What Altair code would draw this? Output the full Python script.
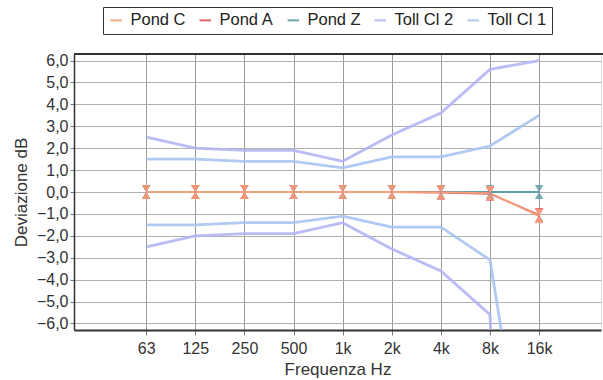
import altair as alt
import pandas as pd

freqs = ["63", "125", "250", "500", "1k", "2k", "4k", "8k", "16k"]
series = ["Pond C", "Pond A", "Pond Z", "Toll Cl 2", "Toll Cl 1"]
colors = ["#f2a27c", "#e8505f", "#5f9ea6", "#b4b4f4", "#a9c4f0"]

pond_c = [0.0, 0.0, 0.0, 0.0, 0.0, 0.0, -0.02, -0.05, -1.1]
pond_a = [0.0, 0.0, 0.0, 0.0, 0.0, 0.0, -0.03, -0.08, -1.05]
pond_z = [0.0, 0.0, 0.0, 0.0, 0.0, 0.0, 0.0, 0.0, 0.0]
toll1_up = [1.5, 1.5, 1.4, 1.4, 1.1, 1.6, 1.6, 2.1, 3.5]
toll1_dn = [-1.5, -1.5, -1.4, -1.4, -1.1, -1.6, -1.6, -3.1, -17.0]
toll2_up = [2.5, 2.0, 1.9, 1.9, 1.4, 2.6, 3.6, 5.6, 6.0]
toll2_dn = [-2.5, -2.0, -1.9, -1.9, -1.4, -2.6, -3.6, -5.6, -60.0]

rows = []
for name, vals, lid in [("Toll Cl 2", toll2_up, "t2u"), ("Toll Cl 2", toll2_dn, "t2d"),
                        ("Toll Cl 1", toll1_up, "t1u"), ("Toll Cl 1", toll1_dn, "t1d"),
                        ("Pond Z", pond_z, "pz"), ("Pond A", pond_a, "pa"),
                        ("Pond C", pond_c, "pc")]:
    for i, v in enumerate(vals):
        rows.append({"series": name, "line": lid, "idx": i, "value": v,
                     "kind": "toll" if name.startswith("Toll") else "pond"})
df = pd.DataFrame(rows)

W, H = 527, 276
label_arr = "[" + ",".join("'%s'" % f for f in freqs) + "]"

xenc = alt.X("idx:Q", scale=alt.Scale(domain=[-1.47, 9.26], nice=False, zero=False),
             axis=alt.Axis(values=list(range(len(freqs))), labelExpr=label_arr + "[datum.value]",
                           title="Frequenza Hz", grid=True, gridColor="#9a9a9a", gridWidth=1,
                           domainColor="#333", domainWidth=2, tickColor="#777", tickSize=5,
                           labelFontSize=16, titleFontSize=17, titleFontWeight="normal",
                           labelColor="#333", titleColor="#333", labelPadding=5, titlePadding=5))
yenc = alt.Y("value:Q", scale=alt.Scale(domain=[-6.3, 6.3], nice=False, zero=False),
             axis=alt.Axis(values=list(range(-6, 7)),
                           labelExpr="replace(format(datum.value, '.1f'), '.', ',')",
                           title="Deviazione dB", grid=True, gridColor="#b0b0b0", gridWidth=1,
                           domainColor="#333", domainWidth=1.5, tickColor="#777", tickSize=4,
                           labelFontSize=16, titleFontSize=17, titleFontWeight="normal",
                           labelColor="#333", titleColor="#333", labelPadding=2, titlePadding=6))

legend = alt.Legend(orient="none", legendX=29, legendY=-47, direction="horizontal", title=None,
                    strokeColor="#333", fillColor="white", padding=5, symbolType="stroke",
                    symbolStrokeWidth=2, symbolSize=130, labelFontSize=16.5, labelColor="#222",
                    columnPadding=9, labelOffset=6)
color = alt.Color("series:N", scale=alt.Scale(domain=series, range=colors), legend=legend,
                  sort=series)

base = alt.Chart(df)

toll = base.transform_filter("datum.kind == 'toll'").mark_line(
    strokeWidth=2.8, clip=True, opacity=0.9).encode(
    x=xenc, y=yenc, color=color, detail="line:N")

pond = base.transform_filter("datum.kind == 'pond'").mark_line(
    strokeWidth=1.8, clip=True).encode(
    x=xenc, y=yenc, color=color, detail="line:N")

hourglass = "M-0.6,-1L0.6,-1L0,0L0.6,1L-0.6,1L0,0Z"
markers = base.transform_filter("datum.kind == 'pond'").mark_point(
    shape=hourglass, filled=True, size=200, opacity=0.85).encode(
    x=xenc, y=yenc,
    color=alt.Color("series:N", scale=alt.Scale(domain=series, range=colors), legend=None),
    detail="line:N")

top_rule = base.mark_rule(color="#333", strokeWidth=2).encode(
    x=alt.value(0), x2=alt.value(W + 5), y=alt.value(0))

chart = alt.layer(toll, pond, markers, top_rule).properties(
    width=W, height=H,
    padding={"left": 74, "top": 54, "right": 2, "bottom": 50},
    autosize=alt.AutoSizeParams(type="none"),
    background="white",
).configure_view(stroke=None).configure(font="Liberation Sans")

chart.save("out.html", embed_options={"renderer": "svg", "actions": False})
